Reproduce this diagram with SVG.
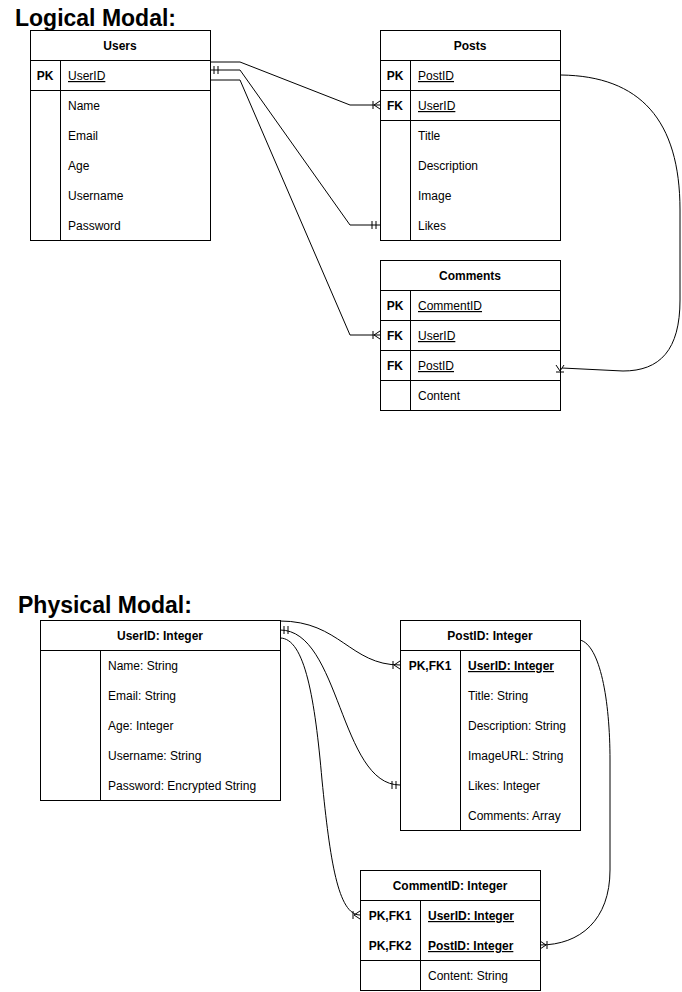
<svg xmlns="http://www.w3.org/2000/svg" width="682" height="992" viewBox="0 0 682 992">
<style>
text{font-family:"Liberation Sans",Arial,sans-serif;font-size:12px;fill:#000}
.t{font-size:23px;font-weight:bold}
.h{font-weight:bold;text-anchor:middle}
.k{font-weight:bold;text-anchor:middle}
.u{text-decoration:underline}
.ub{text-decoration:underline;font-weight:bold}
.box{fill:#fff;stroke:#000;stroke-width:1}
.ln{stroke:#000;stroke-width:1;fill:none}
.c{stroke:#000;stroke-width:1;fill:none}
</style>
<defs>
<marker id="many" markerUnits="userSpaceOnUse" viewBox="0 0 10 10" refX="10" refY="5" markerWidth="10" markerHeight="10" orient="auto-start-reverse">
<path d="M3,1 L3,9 M10,1 L4,5 L10,9" fill="none" stroke="#000" stroke-width="1"/>
</marker>
<marker id="one" markerUnits="userSpaceOnUse" viewBox="0 0 10 10" refX="10" refY="5" markerWidth="10" markerHeight="10" orient="auto-start-reverse">
<path d="M2,1 L2,9 M6,1 L6,9" fill="none" stroke="#000" stroke-width="1"/>
</marker>
</defs>
<rect width="682" height="992" fill="#fff"/>
<text class="t" x="15" y="26">Logical Modal:</text>
<text class="t" x="18" y="613">Physical Modal:</text>

<g id="users">
<rect class="box" x="30.5" y="30.5" width="180" height="210"/>
<path class="ln" d="M30.5,60.5 H210.5 M30.5,90.5 H210.5 M60.5,60.5 V240.5"/>
<text class="h" x="120" y="50">Users</text>
<text class="k" x="45" y="80">PK</text>
<text class="u" x="68" y="80">UserID</text>
<text x="68" y="110">Name</text>
<text x="68" y="140">Email</text>
<text x="68" y="170">Age</text>
<text x="68" y="200">Username</text>
<text x="68" y="230">Password</text>
</g>

<g id="posts">
<rect class="box" x="380.5" y="30.5" width="180" height="210"/>
<path class="ln" d="M380.5,60.5 H560.5 M380.5,90.5 H560.5 M380.5,120.5 H560.5 M410.5,60.5 V240.5"/>
<text class="h" x="470" y="50">Posts</text>
<text class="k" x="395" y="80">PK</text>
<text class="u" x="418" y="80">PostID</text>
<text class="k" x="395" y="110">FK</text>
<text class="u" x="418" y="110">UserID</text>
<text x="418" y="140">Title</text>
<text x="418" y="170">Description</text>
<text x="418" y="200">Image</text>
<text x="418" y="230">Likes</text>
</g>

<g id="comments">
<rect class="box" x="380.5" y="260.5" width="180" height="150"/>
<path class="ln" d="M380.5,290.5 H560.5 M380.5,320.5 H560.5 M380.5,350.5 H560.5 M380.5,380.5 H560.5 M410.5,290.5 V410.5"/>
<text class="h" x="470" y="280">Comments</text>
<text class="k" x="395" y="310">PK</text>
<text class="u" x="418" y="310">CommentID</text>
<text class="k" x="395" y="340">FK</text>
<text class="u" x="418" y="340">UserID</text>
<text class="k" x="395" y="370">FK</text>
<text class="u" x="418" y="370">PostID</text>
<text x="418" y="400">Content</text>
</g>

<g id="p-users">
<rect class="box" x="40.5" y="620.5" width="240" height="180"/>
<path class="ln" d="M40.5,650.5 H280.5 M100.5,650.5 V800.5"/>
<text class="h" x="160" y="640">UserID: Integer</text>
<text x="108" y="670">Name: String</text>
<text x="108" y="700">Email: String</text>
<text x="108" y="730">Age: Integer</text>
<text x="108" y="760">Username: String</text>
<text x="108" y="790">Password: Encrypted String</text>
</g>

<g id="p-posts">
<rect class="box" x="400.5" y="620.5" width="180" height="210"/>
<path class="ln" d="M400.5,650.5 H580.5 M460.5,650.5 V830.5"/>
<text class="h" x="490" y="640">PostID: Integer</text>
<text class="k" x="430" y="670">PK,FK1</text>
<text class="ub" x="468" y="670">UserID: Integer</text>
<text x="468" y="700">Title: String</text>
<text x="468" y="730">Description: String</text>
<text x="468" y="760">ImageURL: String</text>
<text x="468" y="790">Likes: Integer</text>
<text x="468" y="820">Comments: Array</text>
</g>

<g id="p-comments">
<rect class="box" x="360.5" y="870.5" width="180" height="120"/>
<path class="ln" d="M360.5,900.5 H540.5 M360.5,960.5 H540.5 M420.5,900.5 V990.5"/>
<text class="h" x="450" y="890">CommentID: Integer</text>
<text class="k" x="390" y="920">PK,FK1</text>
<text class="ub" x="428" y="920">UserID: Integer</text>
<text class="k" x="390" y="950">PK,FK2</text>
<text class="ub" x="428" y="950">PostID: Integer</text>
<text x="428" y="980">Content: String</text>
</g>

<g id="connectors">
<path class="c" d="M210,62 L240,62 L350,105 L380,105" marker-end="url(#many)"/>
<path class="c" d="M210,70 L240,70 L350,225 L380,225" marker-start="url(#one)" marker-end="url(#one)"/>
<path class="c" d="M210,80 L240,80 L350,335 L380,335" marker-end="url(#many)"/>
<path class="c" d="M561,75 C640,76 680,120 680,210 L680,300 C680,350 660,371 623,371 L562,368"/>
<path class="c" d="M556,365 L560,371 L564,365 M556,372 L564,372"/>
<path class="c" d="M280,621 C340,621 350,665 400,665" marker-end="url(#many)"/>
<path class="c" d="M280,630 C340,630 340,785 400,785" marker-start="url(#one)" marker-end="url(#one)"/>
<path class="c" d="M280,638 C305,638 315,700 322,780 C330,860 338,915 360,915" marker-end="url(#many)"/>
<path class="c" d="M580,640 C600,645 610,700 610,760 L610,870 C610,920 580,945 540,945" marker-end="url(#many)"/>
</g>
</svg>
